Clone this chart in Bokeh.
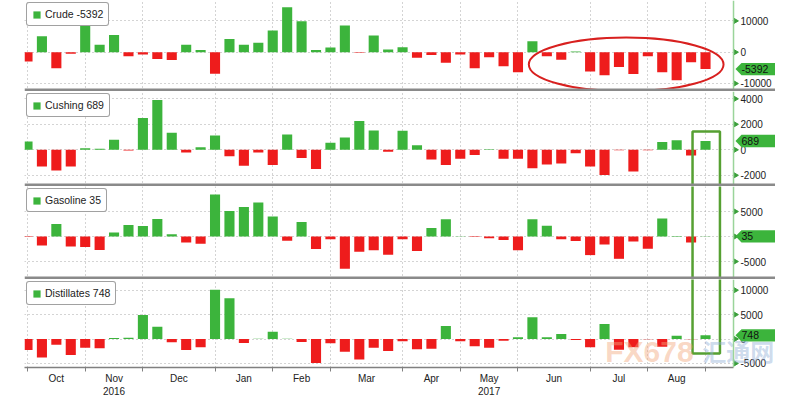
import numpy as np
from bokeh.plotting import figure
from bokeh.layouts import column
from bokeh.models import (ColumnDataSource, FixedTicker, LinearAxis, Range1d,
                          Legend, LegendItem, BoxAnnotation, Span)
from bokeh.core.properties import value
from bokeh.embed import file_html
from bokeh.resources import INLINE

# ---------------- data: weekly inventory changes (thousand barrels) ----------------
crude = [-3000, 5100, -5100, -500, 9600, 2400, 5500, -1300, -700, -2200, -2500, 2400,
         700, -6900, 4200, 2400, 3000, 6900, 14400, 9900, 700, 1500, 8500, -200,
         5300, 900, 1600, -1800, -900, -3400, -700, -5100, -1600, -4500, -6400, 3500,
         -1300, -2400, 200, -6200, -7400, -4700, -7000, -1300, -6400, -9000, -3200, -5392]
cushing = [650, -1300, -1620, -1300, 130, 80, 780, -50, 2500, 3900, 1330, -210,
           200, 1120, -500, -1250, -210, -1200, 1200, -650, -1500, 550, 970, 2250,
           1520, -150, 1500, 350, -770, -1200, -700, -400, 50, -700, -700, -1450,
           -1150, -1070, -270, -1300, -1970, -30, -1700, -30, 620, 750, -450, 689]
gasoline = [-100, -1800, 2500, -2000, -2100, -2700, 800, 2300, 2100, 3500, 450, -1200,
            -1450, 8400, 5100, 5900, 6800, 4000, -870, 2900, -2500, -530, -6450, -3070,
            -2730, -3670, -550, -2900, 1700, 3450, 50, -100, -340, -680, -2770, 3450,
            2160, -540, -880, -3720, -1620, -4460, -1010, -2430, 3580, 100, -1200, 35]
distillates = [-2260, -3770, -1160, -3290, -1780, -1920, 200, 250, 4930, 2530, -680, -2260,
               -1710, 10070, 8360, -820, 50, 1500, 50, -620, -4930, -890, -2600, -4180,
               -1780, -2470, -480, -2120, -1990, 2670, -480, -1510, -1780, -340, 340, 4450,
               340, 1030, -200, -1710, 3080, -2190, -1710, -50, -1580, 680, -50, 748]

month_labels = ["Oct", "Nov", "Dec", "Jan", "Feb", "Mar", "Apr", "May", "Jun", "Jul", "Aug"]
month_first_week = [0, 4, 8, 13, 17, 21, 26, 30, 34, 39, 43, 47]
year_labels = {"Nov": "2016", "May": "2017"}

crude_ticks = [-10000, 0, 10000]
cushing_ticks = [-2000, 0, 2000, 4000]
gasoline_ticks = [-5000, 0, 5000]
distillates_ticks = [-5000, 0, 5000, 10000]

# ---------------- styling / layout ----------------
GREEN = "#3cb43c"
RED = "#ee1c1c"
AXIS_GREEN = "#3a9e3a"
FONT = "Liberation Sans"
PX = 1 / 14.43                 # one pixel in week units
X_START = -3 * PX              # frame left edge (3 px left of first bar)
AXIS_X = 47 + 28 * PX          # right value-axis line
X_END = 47 + 70 * PX           # frame right edge
WIDTH = 775
LEFT = 24

weeks = list(range(len(crude)))
x_range = Range1d(X_START, X_END)


def make_panel(name, values, y_start, y_end, ticks, height, border_bottom, separator=True):
    p = figure(width=WIDTH, height=height, x_range=x_range, y_range=Range1d(y_start, y_end),
               output_backend="svg", toolbar_location=None, x_axis_location=None,
               y_axis_location=None, min_border_left=LEFT, min_border_right=0,
               min_border_top=0, min_border_bottom=border_bottom)
    p.outline_line_color = None
    p.border_fill_color = "white"
    frame_h = height - border_bottom
    dpp = (y_end - y_start) / frame_h      # data units per pixel

    src = ColumnDataSource(dict(x=weeks, v=values,
                                color=[GREEN if v >= 0 else RED for v in values]))
    r = p.vbar(x="x", top="v", bottom=0, width=0.7, fill_color="color",
               line_color=None, source=src)

    # grids
    p.xgrid.ticker = FixedTicker(ticks=month_first_week)
    p.ygrid.ticker = FixedTicker(ticks=ticks)
    for g in (p.xgrid, p.ygrid):
        g.grid_line_color = "#a8a8a8"
        g.grid_line_dash = "1 3"
        g.grid_line_width = 1

    # white strip right of the value axis (grid lines stop at the axis)
    p.quad(left=AXIS_X, right=X_END + 1, bottom=y_start - 1e6, top=y_end + 1e6,
           fill_color="white", line_color=None)

    # value axis on the right: line, tick marks, labels
    p.add_layout(Span(location=AXIS_X, dimension="height", line_color="#9ad49a",
                      line_width=1.5))
    p.scatter(x=[AXIS_X + 2 * PX] * len(ticks), y=ticks, marker="triangle",
              angle=-np.pi / 2, size=5, fill_color=AXIS_GREEN, line_color=AXIS_GREEN)
    p.text(x=[AXIS_X + 7 * PX] * len(ticks), y=ticks, text=[str(t) for t in ticks],
           text_font=value(FONT), text_font_size=value("10px"), text_color="#222222",
           text_baseline="middle", text_align="left")

    # latest-value tag
    last = values[-1]
    h = 6.2 * dpp
    p.patch(x=[AXIS_X + 2 * PX, AXIS_X + 8 * PX, X_END + 1, X_END + 1, AXIS_X + 8 * PX],
            y=[last, last + h, last + h, last - h, last - h],
            fill_color=GREEN, line_color=None)
    p.text(x=[AXIS_X + 8 * PX], y=[last], text=[str(last)], text_font=value(FONT),
           text_font_size=value("10.5px"), text_color="#111111",
           text_baseline="middle", text_align="left")

    green_idx = next(i for i, v in enumerate(values) if v > 0)
    leg = Legend(items=[LegendItem(label=f"{name} {last}", renderers=[r], index=green_idx)],
                 location="top_left", margin=2, padding=5, spacing=0,
                 glyph_width=9, glyph_height=9, label_standoff=4, label_height=12,
                 label_text_font=FONT, label_text_font_size="10.5px",
                 label_text_color="#222222",
                 border_line_color="#444444", border_line_width=1,
                 background_fill_color="white", background_fill_alpha=1)
    try:
        leg.border_radius = 3
    except Exception:
        pass
    p.add_layout(leg)

    if separator:
        p.add_layout(BoxAnnotation(bottom=y_start, top=y_start + 3 * dpp,
                                   fill_color="#8a8a8a", fill_alpha=1, line_alpha=0,
                                   level="overlay"))
    return p


# frames placed on the reference pixel rows (0-91, 91-186, 186-279, 279-367)
p1 = make_panel("Crude", crude, -12556, 16518, crude_ticks, 91, 0)
p2 = make_panel("Cushing", cushing, -2878, 4573, cushing_ticks, 95, 0)
p3 = make_panel("Gasoline", gasoline, -8600, 10000, gasoline_ticks, 93, 0)
p4 = make_panel("Distillates", distillates, -5840, 12193, distillates_ticks, 121, 33,
                separator=False)

# red ellipse highlighting the recent draws (annotation)
ELL_X, ELL_W, ELL_Y, ELL_H = 41.5, 13.5, -3930, 17250
p1.ellipse(x=ELL_X, y=ELL_Y, width=ELL_W, height=ELL_H, fill_alpha=0,
           line_color="#d8201f", line_width=2)

# green highlight box around the latest week (annotation)
HL_L, HL_R = 46.1, 48.0
HL_COLOR = "#56a032"
p2.quad(left=HL_L, right=HL_R, top=1435, bottom=-5000, fill_alpha=0,
        line_color=HL_COLOR, line_width=2.5)
p3.quad(left=HL_L, right=HL_R, top=20000, bottom=-20000, fill_alpha=0,
        line_color=HL_COLOR, line_width=2.5)
p4.quad(left=HL_L, right=HL_R, top=30000, bottom=-2970, fill_alpha=0,
        line_color=HL_COLOR, line_width=2.5)

# bottom date axis: month names between month boundaries, year below
month_centers = [(a + b) / 2 for a, b in zip(month_first_week[:-1], month_first_week[1:])]
overrides = {c: (m + "\n" + year_labels[m] if m in year_labels else m)
             for c, m in zip(month_centers, month_labels)}
ax1 = LinearAxis(ticker=FixedTicker(ticks=month_centers, minor_ticks=month_first_week),
                 major_label_overrides=overrides, bounds=(X_START, AXIS_X))
ax1.axis_line_color = "#808080"
ax1.axis_line_width = 1.5
ax1.major_tick_out = 0
ax1.major_tick_in = 0
ax1.minor_tick_out = 4
ax1.minor_tick_in = 0
ax1.minor_tick_line_color = "#808080"
ax1.major_label_standoff = 1
ax1.major_label_text_font = FONT
ax1.major_label_text_font_size = "10px"
ax1.major_label_text_color = "#222222"
p4.add_layout(ax1, "below")

# faint source watermark
p4.text(x=[40.05], y=[-5840], text=["FX678"], text_font=value(FONT),
        text_font_style="bold", text_font_size=value("30px"), text_color="#f3a77c",
        text_alpha=0.45, text_baseline="bottom")
p4.text(x=[46.78], y=[-5840], text=["汇通网"], text_font=value("Noto Sans CJK SC"),
        text_font_style="bold", text_font_size=value("24px"), text_color="#93afd8",
        text_alpha=0.45, text_baseline="bottom")

layout = column(p1, p2, p3, p4, spacing=0)
open("out.html", "w").write(file_html(layout, INLINE))
